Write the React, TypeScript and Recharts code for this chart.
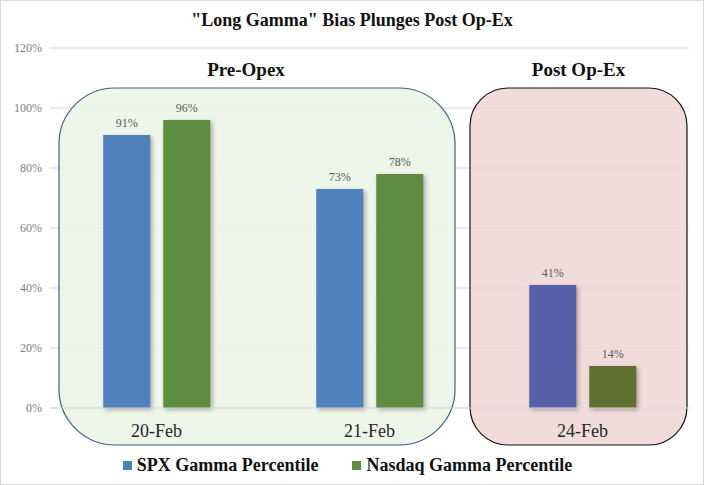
import { BarChart, Bar, XAxis, YAxis, CartesianGrid, Legend, LabelList, Cell, ReferenceArea } from 'recharts';

const categories = ['20-Feb', '21-Feb', '24-Feb'];
const spxValues = [91, 73, 41];
const nasdaqValues = [96, 78, 14];
const yTicks = [0, 20, 40, 60, 80, 100, 120];

const spxColors = ['#4F81BD', '#4F81BD', '#5660A8'];
const nasdaqColors = ['#5E8D42', '#5E8D42', '#5F702F'];

const data = categories.map((day, i) => ({ day, spx: spxValues[i], nasdaq: nasdaqValues[i] }));

const SERIF = '"Liberation Serif", "DejaVu Serif", serif';

const roundedBox = (label: string, fill: string, stroke: string, pad: { l: number; r: number; t: number; b: number; rx: number; labelDx: number }) =>
  (props: any) => {
    const x = props.x + pad.l;
    const y = props.y + pad.t;
    const w = props.width - pad.l + pad.r;
    const h = props.height - pad.t + pad.b;
    return (
      <g>
        <rect x={x} y={y} width={w} height={h} rx={pad.rx} ry={pad.rx} fill={fill} fillOpacity={0.85} stroke={stroke} strokeWidth={1.2} />
        <text x={x + w / 2 + pad.labelDx} y={y - 12} textAnchor="middle" fontFamily={SERIF} fontWeight="bold" fontSize={19} fill="#111">
          {label}
        </text>
      </g>
    );
  };

const CategoryTick = (props: any) => (
  <text x={props.x} y={props.y + 21} textAnchor="middle" fontFamily={SERIF} fontSize={18} fill="#262626">
    {props.payload.value}
  </text>
);

const LegendContent = () => (
  <div style={{ display: 'flex', justifyContent: 'center', alignItems: 'center', height: 40, gap: 34, fontFamily: SERIF, fontWeight: 'bold', fontSize: 18, color: '#111', paddingLeft: 6 }}>
    <span style={{ display: 'flex', alignItems: 'center' }}>
      <span style={{ width: 9, height: 9, background: '#4F81BD', marginRight: 5 }} />
      SPX Gamma Percentile
    </span>
    <span style={{ display: 'flex', alignItems: 'center' }}>
      <span style={{ width: 9, height: 9, background: '#5E8D42', marginRight: 5 }} />
      Nasdaq Gamma Percentile
    </span>
  </div>
);

const barShadow = { filter: 'drop-shadow(2px 2px 2px rgba(0, 0, 0, 0.3))' };

export default function App() {
  return (
    <div style={{ position: 'relative', width: 704, height: 485, background: '#fff' }}>
      <style>{`body { margin: 0; }`}</style>
      <BarChart width={704} height={485} data={data} margin={{ top: 48, right: 15, bottom: 0, left: 0 }} barCategoryGap="25%" barGap={13}>
        <CartesianGrid vertical={false} stroke="#d9d9d9" />
        <ReferenceArea
          x1="20-Feb"
          x2="21-Feb"
          y1={0}
          y2={120}
          ifOverflow="visible"
          shape={roundedBox('Pre-Opex', '#EBF3E5', '#3F5F8A', { l: 9, r: -21, t: 40, b: 37, rx: 56, labelDx: -11 })}
        />
        <ReferenceArea
          x1="24-Feb"
          x2="24-Feb"
          y1={0}
          y2={120}
          ifOverflow="visible"
          shape={roundedBox('Post Op-Ex', '#F0D6D5', '#111', { l: -6, r: -2, t: 40, b: 37, rx: 38, labelDx: 0 })}
        />
        <XAxis dataKey="day" axisLine={{ stroke: '#d9d9d9' }} tickLine={false} height={37} tick={<CategoryTick />} />
        <YAxis
          domain={[0, 120]}
          ticks={yTicks}
          tickFormatter={(v: number) => `${v}%`}
          axisLine={false}
          tickLine={false}
          width={50}
          tick={{ fontSize: 12, fill: '#7f7f7f', fontFamily: SERIF }}
        />
        <Legend verticalAlign="bottom" height={40} content={<LegendContent />} />
        <Bar dataKey="spx" name="SPX Gamma Percentile" isAnimationActive={false} style={barShadow}>
          {data.map((_d, i) => (
            <Cell key={`spx-${i}`} fill={spxColors[i]} />
          ))}
          <LabelList dataKey="spx" position="top" offset={8} formatter={(v: any) => `${v}%`} style={{ fontSize: 12, fill: '#595959', fontFamily: SERIF }} />
        </Bar>
        <Bar dataKey="nasdaq" name="Nasdaq Gamma Percentile" isAnimationActive={false} style={barShadow}>
          {data.map((_d, i) => (
            <Cell key={`nq-${i}`} fill={nasdaqColors[i]} />
          ))}
          <LabelList dataKey="nasdaq" position="top" offset={8} formatter={(v: any) => `${v}%`} style={{ fontSize: 12, fill: '#595959', fontFamily: SERIF }} />
        </Bar>
      </BarChart>
      <div style={{ position: 'absolute', top: 10, left: 0, width: 704, textAlign: 'center', fontFamily: SERIF, fontWeight: 'bold', fontSize: 18, color: '#111' }}>
        "Long Gamma" Bias Plunges Post Op-Ex
      </div>
      <div style={{ position: 'absolute', inset: 0, border: '1px solid #d9d9d9', pointerEvents: 'none' }} />
    </div>
  );
}
